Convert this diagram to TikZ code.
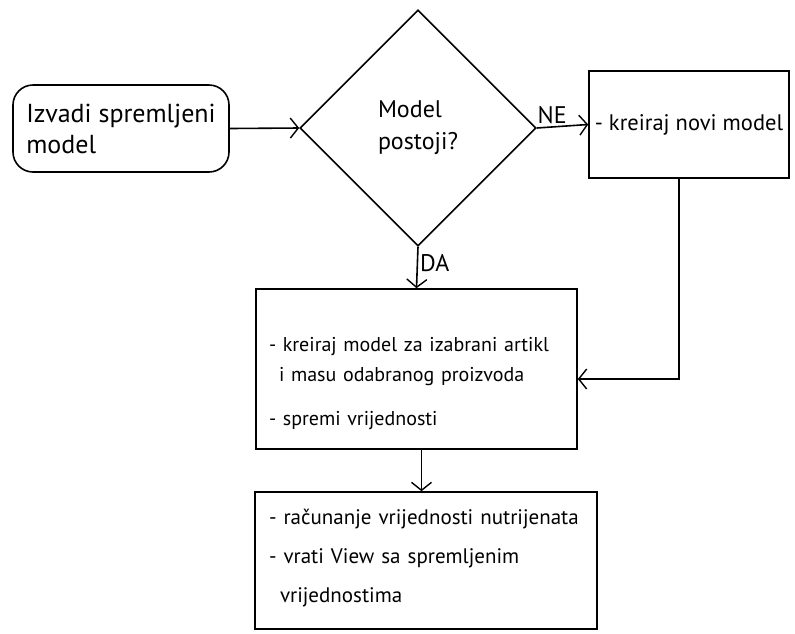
\documentclass[tikz,border=0pt]{standalone}
\usepackage{fontspec}
\setmainfont{PT Sans}
\usetikzlibrary{shapes.geometric,arrows.meta}
\begin{document}
\begin{tikzpicture}[x=1pt,y=-1pt,line width=1.6pt,
  arr/.style={-{Straight Barb[length=8pt,width=20pt,line width=1.4pt]}},
  startbox/.style={draw,rounded corners=20pt,align=left,inner sep=0pt,font=\fontsize{26}{31}\selectfont},
  decision/.style={draw,diamond,shape aspect=1,inner sep=0pt,align=left,font=\fontsize{24}{32}\selectfont},
  box/.style={draw,rectangle,inner sep=0pt,align=left},
  lbl/.style={inner sep=2pt,font=\fontsize{24}{28}\selectfont}
]
\useasboundingbox (0,0) rectangle (795,633);
\node[startbox,minimum width=216pt,minimum height=87pt] (start) at (121,128.5) {Izvadi spremljeni\\model};
\node[decision,minimum width=236pt,minimum height=236pt] (dec) at (418,128) {Model\\postoji?};
\node[box,minimum width=200pt,minimum height=107pt,font=\fontsize{22.5}{26}\selectfont] (novi) at (689,124.5) {- kreiraj novi model};
\node[box,minimum width=321pt,minimum height=160pt,text width=295pt,font=\fontsize{20}{30}\selectfont] (b2) at (416.5,369)
  {\rule{0pt}{44pt}- kreiraj model za izabrani artikl\\\hspace*{10pt}i masu odabranog proizvoda\\[14pt]- spremi vrijednosti};
\node[box,minimum width=342pt,minimum height=137pt,text width=314pt,font=\fontsize{21}{39}\selectfont] (b3) at (426,560.5)
  {- računanje vrijednosti nutrijenata\\- vrati View sa spremljenim\\\hspace*{11pt}vrijednostima\rule[-9pt]{0pt}{0pt}};
\coordinate (turn) at (679,379);
\draw[arr] (start.east) -- (dec.west);
\draw[arr] (dec.east) -- node[lbl,pos=0.3,above] (ne) {NE} (novi.west);
\draw[arr] (dec.south) -- node[lbl,pos=0.4,right] (da) {DA} (b2.north);
\draw[arr] (novi.south -| turn) -- (turn) -- (b2.east |- turn);
\draw[arr] ([xshift=5pt]b2.south) -- ([xshift=5pt]b2.south |- b3.north);
\end{tikzpicture}
\end{document}
